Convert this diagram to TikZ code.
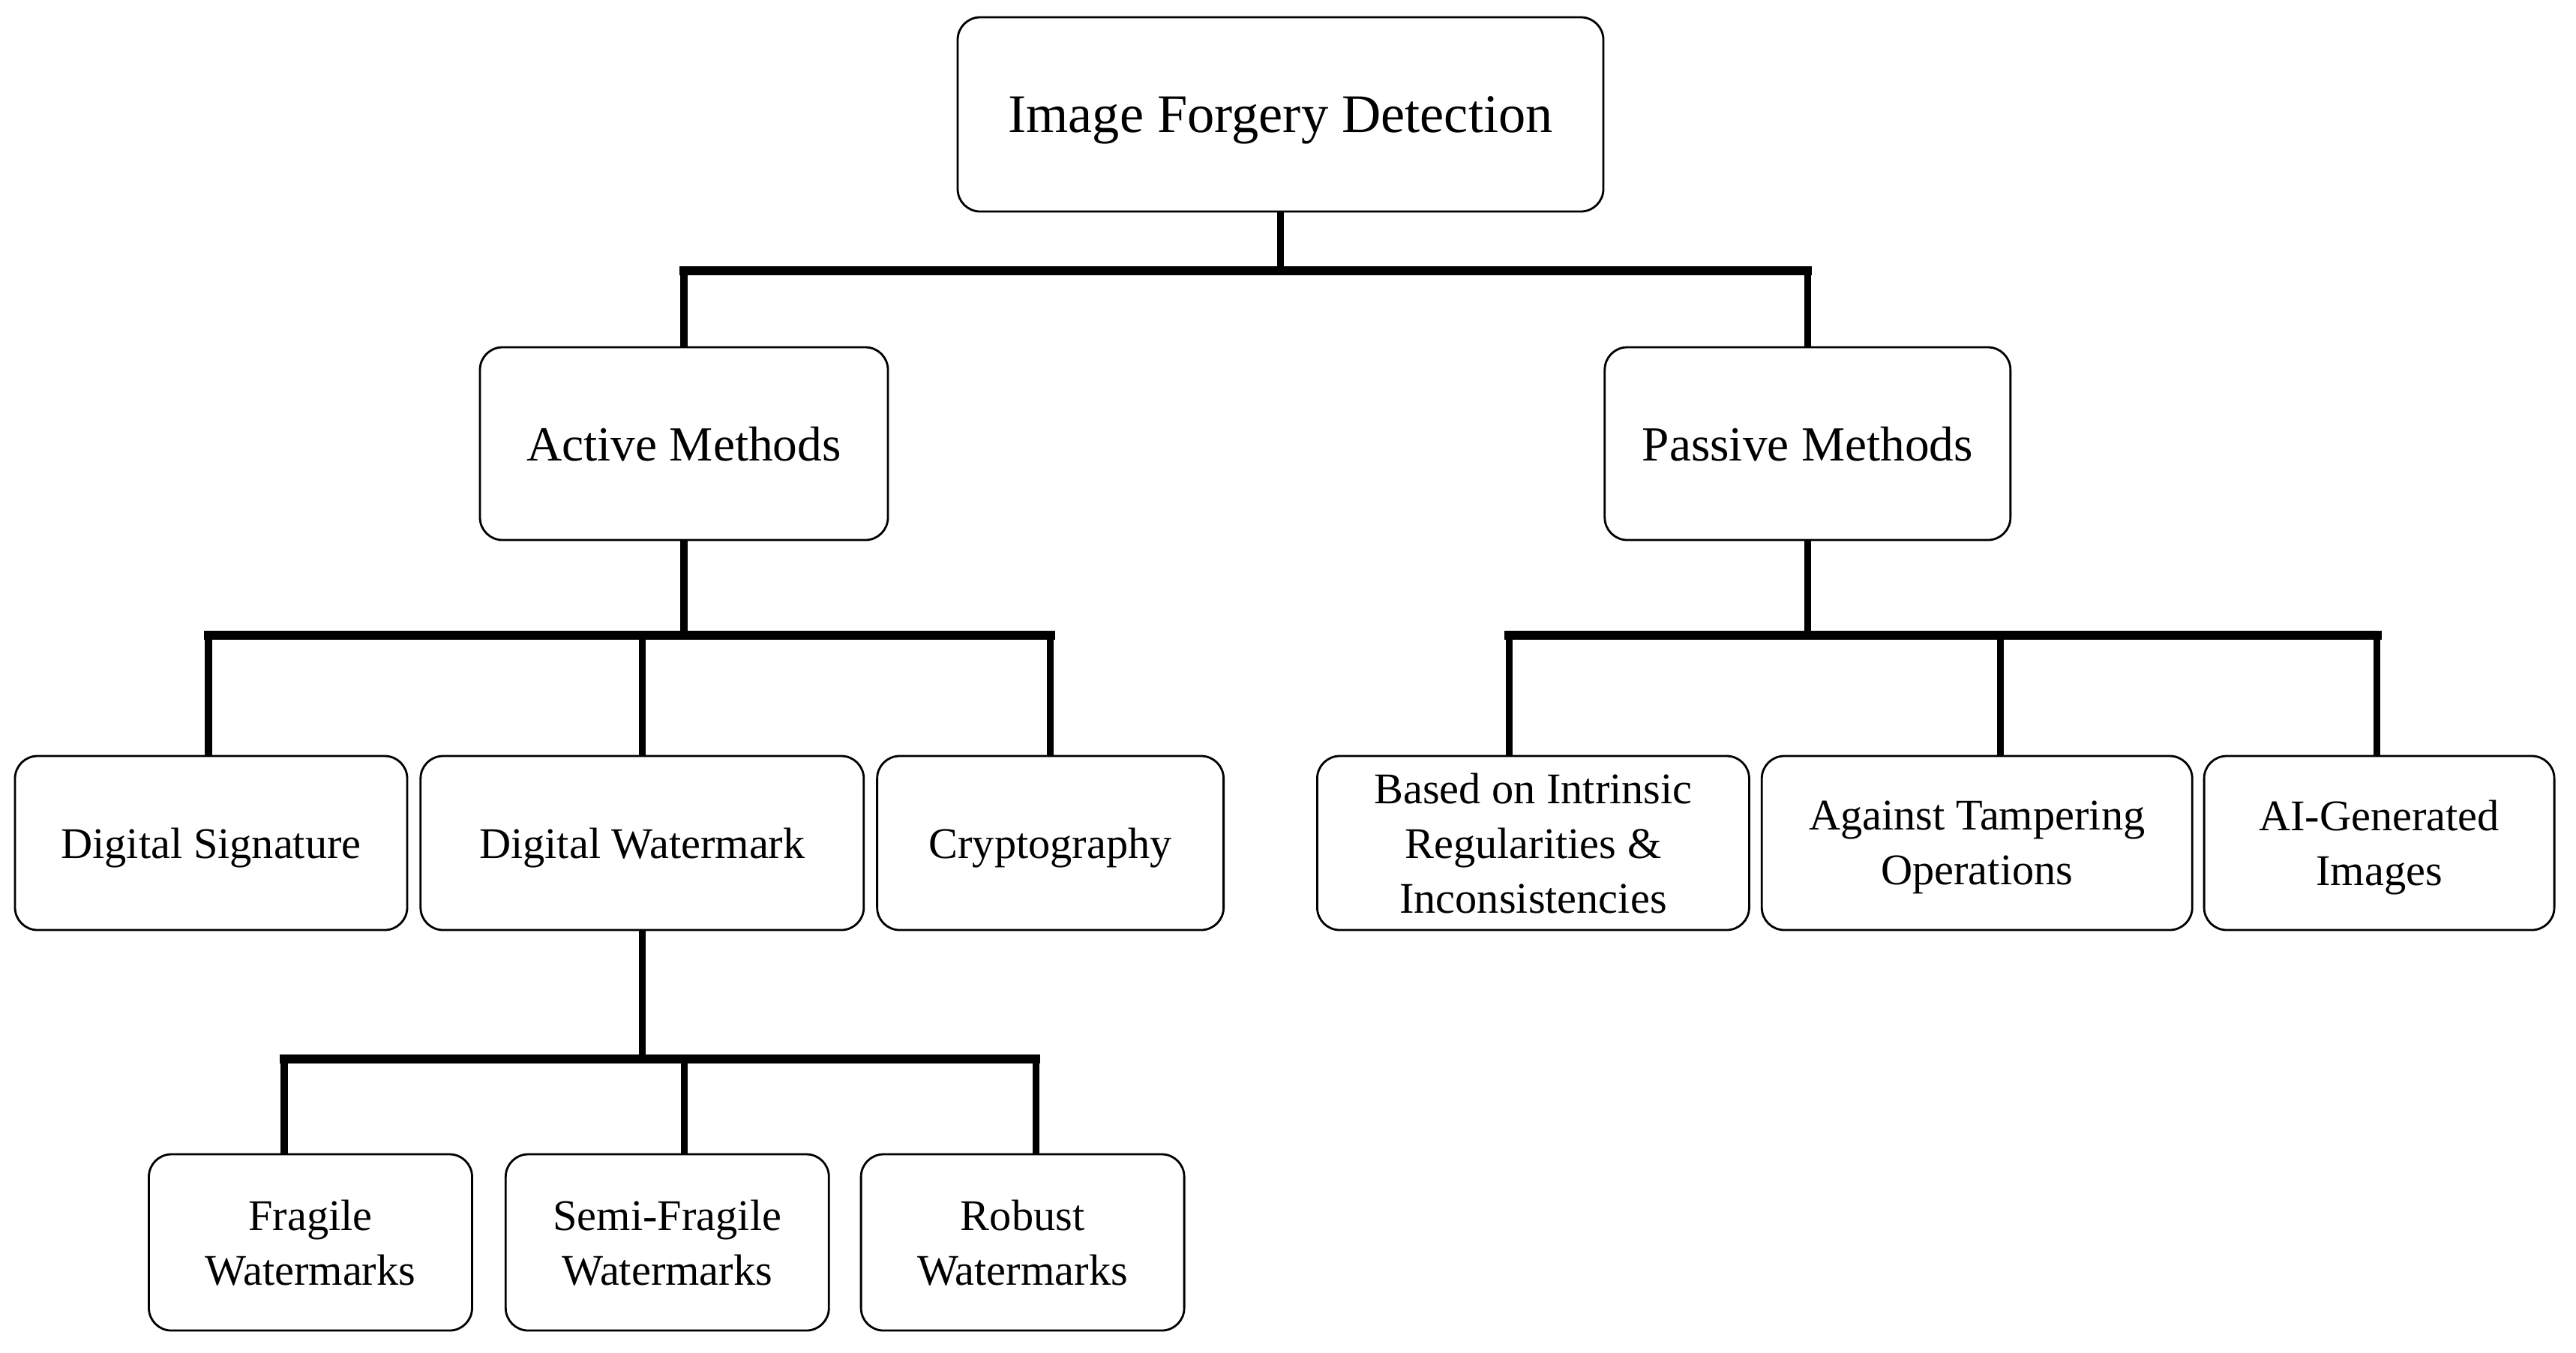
\documentclass[tikz,border=0pt]{standalone}
\usepackage{fontspec}
\setmainfont{Liberation Serif}
\usetikzlibrary{positioning}

\begin{document}
\begin{tikzpicture}[
  node distance=0.15cm,
  box/.style={rectangle, draw, rounded corners=0.3cm, line width=0.8pt, align=center, inner sep=0pt, text depth=0pt, minimum height=2.32cm, font=\fontsize{16.6}{20.7}\selectfont},
  topbox/.style={box, minimum width=8.61cm, minimum height=2.59cm, font=\fontsize{20.6}{25}\selectfont},
  midbox/.style={box, minimum height=2.57cm, font=\fontsize{18.6}{23}\selectfont},
  leafbox/.style={box, minimum width=4.31cm, minimum height=2.35cm},
  stem/.style={line width=2.6pt},
  bar/.style={line width=3.4pt, line cap=rect}
]
\useasboundingbox (0,0) rectangle (34.35,-18.03);

\node[topbox] (root) at (17.075,-1.525) {Image Forgery Detection};
\node[midbox, minimum width=5.44cm] (active) at (9.12,-5.915) {Active Methods};
\node[midbox, minimum width=5.41cm, right=9.53cm of active] (passive) {Passive Methods};

\node[box, minimum width=5.23cm] (digsig) at (2.815,-11.24) {Digital Signature};
\node[box, minimum width=5.91cm, right=of digsig] (digwm) {Digital Watermark};
\node[box, minimum width=4.62cm, right=of digwm] (crypto) {Cryptography};
\node[box, minimum width=5.76cm, right=1.22cm of crypto] (intrinsic) {Based on Intrinsic\\Regularities \&\\Inconsistencies};
\node[box, minimum width=5.74cm, right=0.14cm of intrinsic] (tamper) {Against Tampering\\Operations};
\node[box, minimum width=4.67cm, right=0.13cm of tamper] (aigen) {AI-Generated\\Images};

\node[leafbox] (fragile) at (4.14,-16.565) {Fragile\\Watermarks};
\node[leafbox, right=0.42cm of fragile] (semifragile) {Semi-Fragile\\Watermarks};
\node[leafbox, right=0.40cm of semifragile] (robust) {Robust\\Watermarks};

\coordinate[below=0.78cm of root] (rootbar);
\coordinate[below=1.26cm of active] (activebar);
\coordinate[below=1.26cm of passive] (passivebar);
\coordinate[below=1.71cm of digwm] (wmbar);

% first split
\draw[stem] (root) -- (rootbar);
\draw[bar] (active.north |- rootbar) -- (passive.north |- rootbar);
\foreach \n in {active, passive}
  \draw[stem] (\n.north |- rootbar) -- (\n.north);

% active methods
\draw[stem] (active) -- (activebar);
\draw[bar] ([xshift=-0.035cm]digsig.north |- activebar) -- (crypto.north |- activebar);
\foreach \n/\dx in {digsig/-0.035, digwm/0, crypto/0}
  \draw[stem] ([xshift=\dx cm]\n.north |- activebar) -- ([xshift=\dx cm]\n.north);

% passive methods
\draw[stem] (passive) -- (passivebar);
\draw[bar] ([xshift=-0.32cm]intrinsic.north |- passivebar) -- ([xshift=-0.03cm]aigen.north |- passivebar);
\foreach \n/\dx in {intrinsic/-0.32, tamper/0.31, aigen/-0.03}
  \draw[stem] ([xshift=\dx cm]\n.north |- passivebar) -- ([xshift=\dx cm]\n.north);

% watermarks
\draw[stem] (digwm) -- (wmbar);
\draw[bar] ([xshift=-0.35cm]fragile.north |- wmbar) -- ([xshift=0.175cm]robust.north |- wmbar);
\foreach \n/\dx in {fragile/-0.35, semifragile/0.23, robust/0.175}
  \draw[stem] ([xshift=\dx cm]\n.north |- wmbar) -- ([xshift=\dx cm]\n.north);

\end{tikzpicture}
\end{document}
